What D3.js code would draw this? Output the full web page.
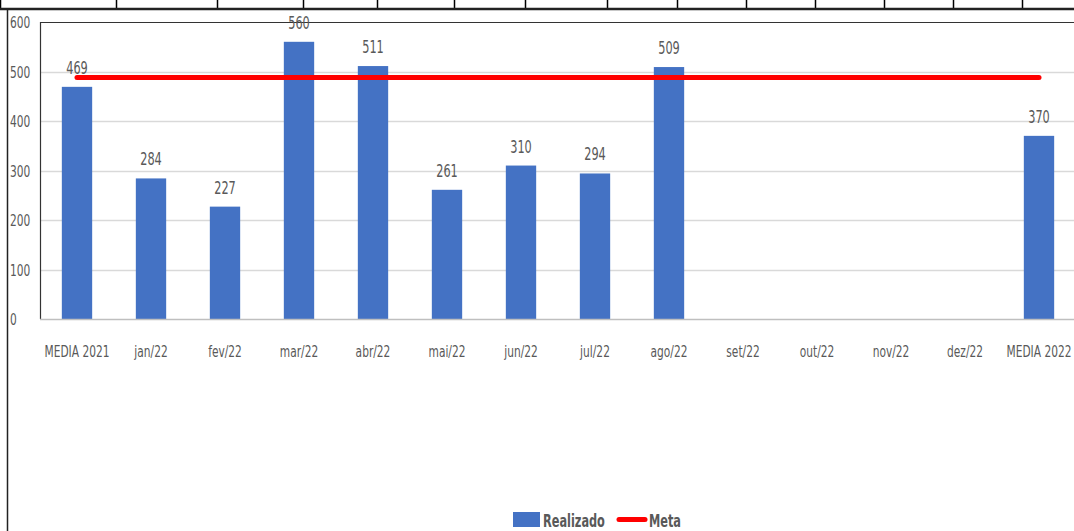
<!DOCTYPE html>
<html>
<head>
<meta charset="utf-8">
<script src="https://cdn.jsdelivr.net/npm/d3@7"></script>
<style>
  body { margin: 0; background: #fff; }
  text { font-family: "DejaVu Sans Condensed", "Liberation Sans", sans-serif; fill: #595959; }
</style>
</head>
<body>
<svg id="chart" width="1074" height="531"></svg>
<script>
// data
var categories = ['MEDIA 2021', 'jan/22', 'fev/22', 'mar/22', 'abr/22', 'mai/22', 'jun/22',
                  'jul/22', 'ago/22', 'set/22', 'out/22', 'nov/22', 'dez/22', 'MEDIA 2022'];
var realizado = [469, 284, 227, 560, 511, 261, 310, 294, 509, null, null, null, null, 370];
var meta = 488;
var yTicks = [0, 100, 200, 300, 400, 500, 600];
// column edges of the table row cut off above the chart
var tableCols = [0, 116, 217, 303, 377, 454, 525, 607, 677, 746, 815, 884, 953, 1022];

var narrow = 0.74; // squeeze text to look like the condensed spreadsheet font
function squeeze(px, py, sx) {
  return 'translate(' + px + ',' + py + ') scale(' + (sx || narrow) + ',1)';
}

var svg = d3.select('#chart');

// table row remnant at the top
svg.append('g').selectAll('line')
  .data(tableCols)
  .enter().append('line')
  .attr('x1', function(d) { return d + 0.5; })
  .attr('x2', function(d) { return d + 0.5; })
  .attr('y1', 0).attr('y2', 9)
  .attr('stroke', '#000').attr('stroke-width', 1.5);
svg.append('line')
  .attr('x1', 0).attr('x2', 1074).attr('y1', 9).attr('y2', 9)
  .attr('stroke', '#222').attr('stroke-width', 2.5);

// outer chart border (left side)
svg.append('line')
  .attr('x1', 7.5).attr('x2', 7.5).attr('y1', 10).attr('y2', 531)
  .attr('stroke', '#222').attr('stroke-width', 1.5);

var x = d3.scaleBand().domain(categories).range([40, 1076]).paddingInner(0.59).paddingOuter(0.295);
var y = d3.scaleLinear().domain([0, 600]).range([319, 22]);

// gridlines
svg.append('g').selectAll('line')
  .data(yTicks.filter(function(d) { return d > 0 && d < 600; }))
  .enter().append('line')
  .attr('x1', 40).attr('x2', 1074)
  .attr('y1', function(d) { return Math.round(y(d)) + 0.5; })
  .attr('y2', function(d) { return Math.round(y(d)) + 0.5; })
  .attr('stroke', '#d9d9d9').attr('stroke-width', 1.5);

// plot frame top and left
svg.append('line')
  .attr('x1', 40).attr('x2', 1074).attr('y1', y(600) + 0.5).attr('y2', y(600) + 0.5)
  .attr('stroke', '#333').attr('stroke-width', 1.2);
svg.append('line')
  .attr('x1', 40.5).attr('x2', 40.5).attr('y1', y(600)).attr('y2', y(0))
  .attr('stroke', '#333').attr('stroke-width', 1.2);

// y tick labels
svg.append('g').selectAll('text')
  .data(yTicks)
  .enter().append('text')
  .attr('transform', function(d) { return squeeze(10, y(d) + 6); })
  .attr('font-size', 16)
  .text(function(d) { return d; });

// bars
var barData = categories.map(function(c, i) { return {cat: c, value: realizado[i]}; })
  .filter(function(d) { return d.value != null; });

svg.append('g').selectAll('rect')
  .data(barData)
  .enter().append('rect')
  .attr('x', function(d) { return x(d.cat); })
  .attr('width', x.bandwidth())
  .attr('y', function(d) { return y(d.value); })
  .attr('height', function(d) { return y(0) - y(d.value); })
  .attr('fill', '#4472c4');

// baseline
svg.append('line')
  .attr('x1', 40).attr('x2', 1074).attr('y1', y(0) + 0.5).attr('y2', y(0) + 0.5)
  .attr('stroke', '#bfbfbf').attr('stroke-width', 1.5);

// value labels
svg.append('g').selectAll('text')
  .data(barData)
  .enter().append('text')
  .attr('transform', function(d) { return squeeze(x(d.cat) + x.bandwidth() / 2, y(d.value) - 13); })
  .attr('text-anchor', 'middle')
  .attr('font-size', 17)
  .text(function(d) { return d.value; });

// meta line
var first = categories[0], last = categories[categories.length - 1];
svg.append('line')
  .attr('x1', x(first) + x.bandwidth() / 2)
  .attr('x2', x(last) + x.bandwidth() / 2)
  .attr('y1', y(meta)).attr('y2', y(meta))
  .attr('stroke', '#ff0000').attr('stroke-width', 5).attr('stroke-linecap', 'round');

// x axis labels
svg.append('g').selectAll('text')
  .data(categories)
  .enter().append('text')
  .attr('transform', function(d) { return squeeze(x(d) + x.bandwidth() / 2, 357); })
  .attr('text-anchor', 'middle')
  .attr('font-size', 16)
  .text(function(d) { return d; });

// legend
var lg = svg.append('g').attr('transform', 'translate(513,512)');
lg.append('rect').attr('width', 27).attr('height', 15).attr('fill', '#4472c4');
lg.append('text').attr('transform', squeeze(30, 15, 0.7)).attr('font-size', 18).attr('font-weight', 'bold')
  .text('Realizado');
lg.append('line').attr('x1', 106).attr('x2', 132).attr('y1', 7.5).attr('y2', 7.5)
  .attr('stroke', '#ff0000').attr('stroke-width', 5).attr('stroke-linecap', 'round');
lg.append('text').attr('transform', squeeze(136, 15, 0.7)).attr('font-size', 18).attr('font-weight', 'bold')
  .text('Meta');
</script>
</body>
</html>
